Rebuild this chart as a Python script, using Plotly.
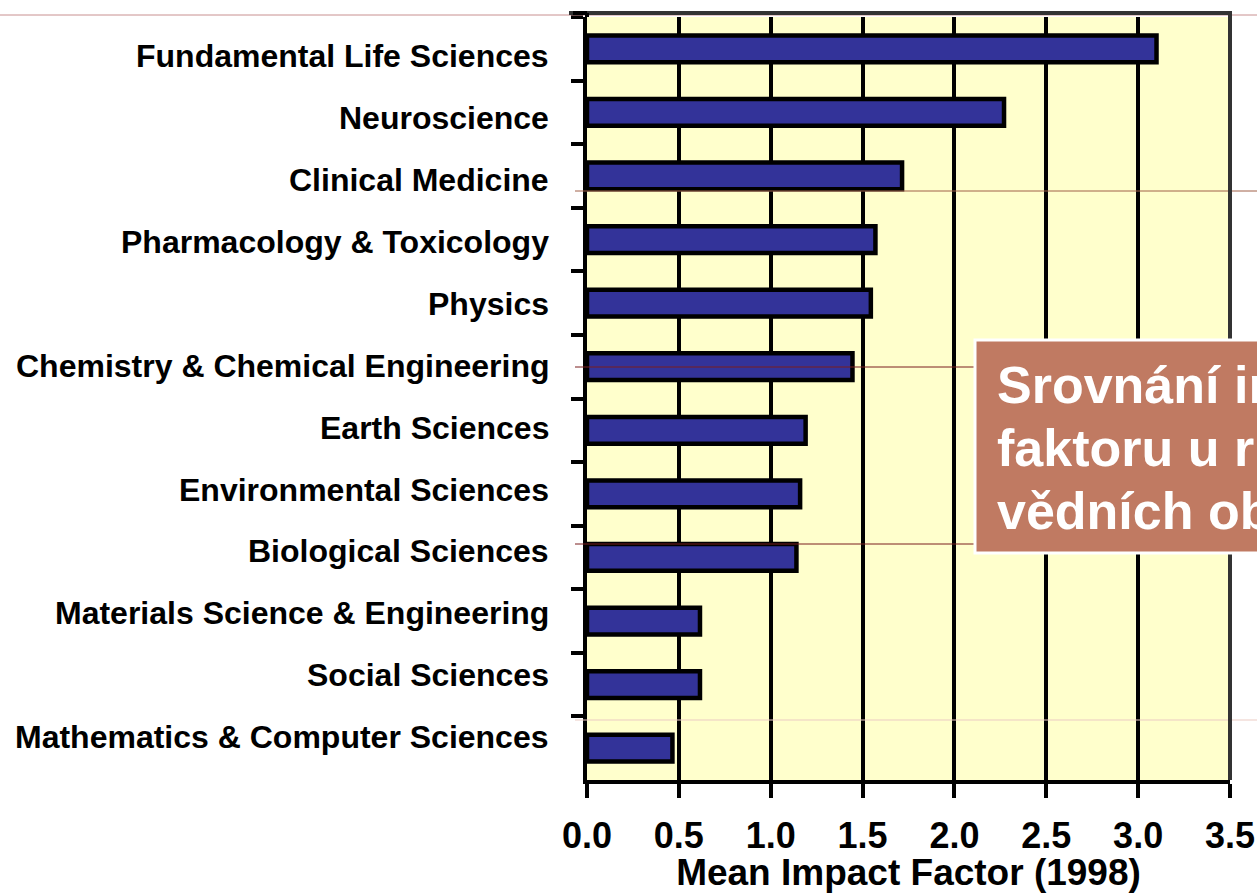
import plotly.graph_objects as go

categories = [
    "Fundamental Life Sciences",
    "Neuroscience",
    "Clinical Medicine",
    "Pharmacology & Toxicology",
    "Physics",
    "Chemistry & Chemical Engineering",
    "Earth Sciences",
    "Environmental Sciences",
    "Biological Sciences",
    "Materials Science & Engineering",
    "Social Sciences",
    "Mathematics & Computer Sciences",
]
impact_1998 = [3.10, 2.27, 1.715, 1.57, 1.545, 1.445, 1.19, 1.16, 1.14, 0.615, 0.615, 0.465]
x_ticks = [0.0, 0.5, 1.0, 1.5, 2.0, 2.5, 3.0, 3.5]
x_tick_text = ["0.0", "0.5", "1.0", "1.5", "2.0", "2.5", "3.0", "3.5"]
box_lines = ["Srovnání impaktního", "faktoru u různých", "vědních oborů"]

W, H = 1257, 893
L, R, T, B = 587, 1230, 17, 780
FONT = "Liberation Sans, Arial, Helvetica, sans-serif"


def px_x(p):
    return (p - L) / (R - L)


def px_y(p):
    return (B - p) / (B - T)


fig = go.Figure(
    go.Bar(
        y=categories,
        x=impact_1998,
        orientation="h",
        width=0.42,
        marker=dict(color="#333399", line=dict(color="black", width=4.5)),
    )
)

shapes = []
# decorative thin slide lines
for y, x0, x1, col in [
    (15, 0, W, "#C89090"),
    (191, 575, W, "#A06048"),
    (367, 575, 975, "#7A1E1E"),
    (544, 575, 975, "#7A1E1E"),
    (720, 575, W, "#EBCBC3"),
]:
    shapes.append(dict(type="line", xref="paper", yref="paper",
                       x0=px_x(x0), x1=px_x(x1), y0=px_y(y), y1=px_y(y),
                       line=dict(color=col, width=1), layer="above"))
# top / right frame
shapes.append(dict(type="line", xref="paper", yref="paper", x0=px_x(569), x1=px_x(1232),
                   y0=px_y(13), y1=px_y(13), line=dict(color="#333333", width=4), layer="above"))
shapes.append(dict(type="line", xref="paper", yref="paper", x0=px_x(573), x1=px_x(587),
                   y0=px_y(13), y1=px_y(13), line=dict(color="black", width=4), layer="above"))
shapes.append(dict(type="line", xref="paper", yref="paper", x0=1, x1=1,
                   y0=0, y1=px_y(13), line=dict(color="#333333", width=4), layer="above"))
shapes.append(dict(type="line", xref="paper", yref="paper", x0=0, x1=0,
                   y0=1, y1=px_y(13), line=dict(color="black", width=4), layer="above"))
# title box
shapes.append(dict(type="rect", xref="paper", yref="paper",
                   x0=px_x(975), x1=px_x(1320), y0=px_y(553), y1=px_y(340),
                   fillcolor="#C07A62", line=dict(color="white", width=3), layer="above"))

annotations = []
# category labels (slightly compressed spacing as in the original slide)
n = len(categories)
for i, cat in enumerate(categories):
    annotations.append(dict(
        text=cat, xref="paper", yref="y", x=px_x(551), y=cat,
        xanchor="right", yanchor="middle", showarrow=False,
        yshift=-(7.6 - 1.7 * i),
        font=dict(family=FONT, size=32, color="black", weight="bold"),
    ))
for i, txt in enumerate(box_lines):
    annotations.append(dict(
        text=txt, xref="paper", yref="paper", x=px_x(995), y=px_y(385 + 63 * i),
        xanchor="left", yanchor="middle", showarrow=False, align="left",
        font=dict(family=FONT, size=52, color="white", weight="bold"),
    ))

fig.update_layout(
    width=W, height=H,
    autosize=False,
    margin=dict(l=L, r=W - R, t=T, b=H - B, pad=0, autoexpand=False),
    paper_bgcolor="white",
    plot_bgcolor="#FFFFCC",
    showlegend=False,
    shapes=shapes,
    annotations=annotations,
    font=dict(family=FONT, color="black"),
)
fig.update_xaxes(
    automargin=False,
    range=[0, 3.5],
    tickvals=x_ticks, ticktext=x_tick_text,
    tickfont=dict(size=36, family=FONT, weight="bold"),
    showgrid=True, gridcolor="black", gridwidth=4,
    zeroline=False,
    showline=True, linecolor="black", linewidth=4,
    ticks="outside", ticklen=14, tickwidth=4, tickcolor="black",
    ticklabelstandoff=7,
    title=dict(text="Mean Impact Factor (1998)",
               font=dict(size=37, family=FONT, weight="bold"), standoff=1),
)
fig.update_yaxes(
    automargin=False,
    autorange="reversed",
    tickson="boundaries",
    showticklabels=False,
    showgrid=False, zeroline=False,
    showline=True, linecolor="black", linewidth=4,
    ticks="outside", ticklen=12, tickwidth=4, tickcolor="black",
)

fig.write_html("out.html", config={"displayModeBar": False},
               post_script="document.body.style.margin='0';")
